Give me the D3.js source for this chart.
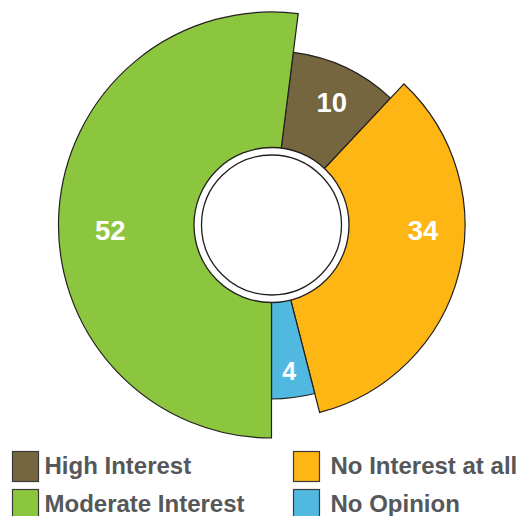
<!DOCTYPE html>
<html>
<head>
<meta charset="utf-8">
<script src="https://cdn.jsdelivr.net/npm/d3@7/dist/d3.min.js"></script>
<style>
  html, body { margin: 0; padding: 0; background: #fff; }
  svg { display: block; }
</style>
</head>
<body>
<svg id="chart" width="523" height="516"></svg>
<script>
// ---- data ----
const categories = ["High Interest", "No Interest at all", "No Opinion", "Moderate Interest"];
const values = [10, 34, 4, 52];
const tiers = [1, 2, 1, 3]; // relative slice extension level
const colors = ["#766640", "#fdb614", "#51b8e0", "#8cc63f"];
const legendOrder = ["High Interest", "Moderate Interest", "No Interest at all", "No Opinion"];

// ---- layout ----
const W = 523, H = 516;
const cx = 271.5, cy = 225;
const hubR = 77.5, hubInnerR = 70;
const stroke = "#231f20";

const svg = d3.select("#chart");
const g = svg.append("g").attr("transform", `translate(${cx},${cy})`);

const data = categories.map((c, i) => ({ cat: c, value: values[i], tier: tiers[i], color: colors[i] }));

const total = d3.sum(values);
// the largest slice begins at the bottom (180 deg)
const before = d3.sum(values.slice(0, 3));
const start = Math.PI - (before / total) * 2 * Math.PI;

const pie = d3.pie().value(d => d.value).sort(null)
  .startAngle(start).endAngle(start + 2 * Math.PI);

const rScale = d3.scaleLinear().domain([1, 3]).range([174, 213]);

const arcs = pie(data);
const arc = d3.arc().innerRadius(0).outerRadius(d => rScale(d.data.tier));

g.selectAll("path.slice").data(arcs).join("path")
  .attr("class", "slice")
  .attr("d", arc)
  .attr("fill", d => d.data.color)
  .attr("stroke", stroke)
  .attr("stroke-width", 1.2)
  .attr("stroke-linejoin", "miter");

// hub
g.append("circle").attr("r", hubR).attr("fill", "#fff").attr("stroke", stroke).attr("stroke-width", 1.3);
g.append("circle").attr("r", hubInnerR).attr("fill", "#fff").attr("stroke", stroke).attr("stroke-width", 1.3);

// labels
function labelPos(d) {
  const outer = rScale(d.data.tier);
  const r = (hubR + outer) / 2 + 16;
  let a = (d.startAngle + d.endAngle) / 2;
  // large slices spanning the horizontal direction: label on horizontal axis
  const norm = x => ((x % (2 * Math.PI)) + 2 * Math.PI) % (2 * Math.PI);
  [Math.PI / 2, 3 * Math.PI / 2].forEach(t => {
    const s = norm(d.startAngle), e = s + (d.endAngle - d.startAngle);
    if ((t >= s && t <= e) || (t + 2 * Math.PI >= s && t + 2 * Math.PI <= e)) a = t;
  });
  return [r * Math.sin(a), -r * Math.cos(a) + 5];
}

g.selectAll("text.val").data(arcs).join("text")
  .attr("class", "val")
  .attr("transform", d => `translate(${labelPos(d)})`)
  .attr("text-anchor", "middle")
  .attr("dy", "0.36em")
  .attr("font-family", "'Liberation Sans', Arial, sans-serif")
  .attr("font-weight", "bold")
  .attr("font-size", d => d.data.value < 5 ? 25 : 27.5)
  .attr("fill", "#fff")
  .text(d => d.data.value);

// legend
const color = d3.scaleOrdinal().domain(categories).range(colors);
const colX = [12, 293];
const textX = [32.5, 37.5];
const rowY = [451, 489];
const lg = svg.append("g");
legendOrder.forEach((c, i) => {
  const col = Math.floor(i / 2), row = i % 2;
  const item = lg.append("g").attr("transform", `translate(${colX[col]},${rowY[row]})`);
  item.append("rect").attr("x", 0.5).attr("y", 0.5).attr("width", 26).attr("height", 30)
    .attr("fill", color(c)).attr("stroke", "#3a3a3a").attr("stroke-width", 1.2);
  item.append("text").attr("x", textX[col]).attr("y", 22.5)
    .attr("font-family", "'Liberation Sans', Arial, sans-serif")
    .attr("font-weight", "bold").attr("font-size", 24)
    .attr("fill", "#555759")
    .text(c);
});
</script>
</body>
</html>
